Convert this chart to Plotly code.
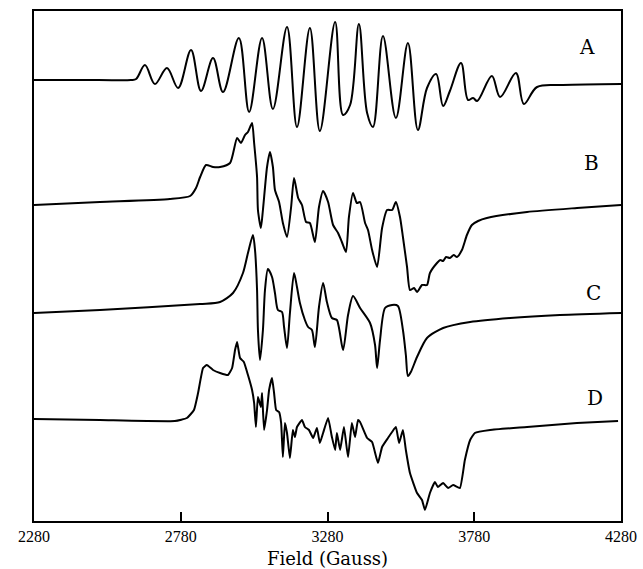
import plotly.graph_objects as go

# ---- data (field in Gauss, signal in arbitrary units relative to each baseline) ----
field_A = [2280, 2500, 2610, 2628, 2658, 2692, 2733, 2771, 2815, 2849, 2890, 2924, 2978, 3013, 3057, 3094,
           3142, 3176, 3220, 3254, 3306, 3333, 3357, 3387, 3415, 3435, 3469, 3513, 3554, 3588,
           3619, 3650, 3674, 3697, 3735, 3759, 3776, 3790, 3840, 3868, 3922, 3949, 3994, 4082, 4280]
sig_A = [0, 0, 0, 1, 15, -4, 12, -8, 30, -11, 22, -12, 42, -32, 42, -29,
         53, -47, 52, -51, 58, -35, -25, 56, -33, -47, 44, -38, 37, -50,
         -8, 6, -26, -11, 17, -20, -18, -21, 4, -17, 7, -24, -7, -5, -4]

field_B = [2280, 2505, 2743, 2812, 2832, 2846, 2866, 2890, 2914, 2948, 2972, 2985, 2999, 3009,
           3023, 3030, 3040, 3043, 3053, 3060, 3074, 3084, 3094, 3101, 3115, 3128, 3142, 3156,
           3166, 3180, 3193, 3207, 3220, 3237, 3251, 3265, 3282, 3299, 3316, 3329, 3343, 3353,
           3367, 3380, 3391, 3408, 3418, 3432, 3449, 3466, 3483, 3500, 3513, 3527, 3537, 3551,
           3561, 3575, 3585, 3602, 3619, 3629, 3653, 3664, 3674, 3684, 3697, 3710, 3721, 3738,
           3755, 3772, 3793, 3823, 3960, 4130, 4280]
sig_B = [-1, 2, 5, 8, 16, 27, 39, 37, 37, 41, 66, 61, 69, 72,
         81, 61, 27, -6, -24, -6, 37, 52, 37, 14, 2, -19, -33, -3,
         26, 6, -1, -18, -19, -38, -3, 13, 2, -21, -29, -38, -48, -13,
         11, 1, 2, -19, -26, -46, -63, -24, -6, -6, 2, -13, -33, -63,
         -86, -84, -88, -81, -81, -69, -59, -56, -57, -53, -54, -51, -53, -46,
         -31, -21, -17, -14, -8, -4, -1]

field_C = [2280, 2505, 2846, 2914, 2958, 2992, 3009, 3026, 3033, 3040, 3043, 3050, 3060, 3067,
           3077, 3091, 3101, 3111, 3125, 3132, 3142, 3152, 3166, 3176, 3186, 3203, 3214, 3227,
           3237, 3251, 3265, 3278, 3295, 3312, 3333, 3350, 3367, 3391, 3425, 3442, 3449, 3459,
           3476, 3500, 3520, 3537, 3547, 3554, 3564, 3585, 3619, 3674, 3766, 3902, 4072, 4280]
sig_C = [0, 3, 9, 11, 20, 40, 60, 78, 63, 23, -17, -47, -17, 23,
         44, 36, 20, 3, 1, -14, -35, 0, 40, 26, 10, -7, -14, -17,
         -34, 6, 30, 11, -5, -7, -37, -2, 17, 5, -10, -32, -55, -27,
         5, 8, 7, -17, -42, -63, -59, -44, -25, -15, -9, -5, -2, 0]

field_D = [2280, 2505, 2760, 2801, 2825, 2839, 2856, 2869, 2890, 2914, 2941, 2955, 2965, 2972,
           2982, 2995, 3009, 3023, 3030, 3036, 3043, 3053, 3057, 3064, 3074, 3081, 3091, 3098,
           3105, 3115, 3122, 3128, 3135, 3142, 3152, 3162, 3169, 3176, 3193, 3203, 3217, 3231,
           3244, 3254, 3265, 3282, 3295, 3306, 3312, 3323, 3336, 3350, 3363, 3374, 3384, 3391,
           3415, 3432, 3452, 3466, 3486, 3500, 3513, 3524, 3537, 3547, 3561, 3585, 3602, 3612,
           3629, 3646, 3656, 3674, 3691, 3708, 3731, 3748, 3766, 3782, 3834, 3960, 4130, 4270]
sig_D = [0, -1, -2, 1, 9, 26, 51, 54, 49, 46, 44, 51, 69, 77,
         61, 57, 44, 29, 16, -8, 22, 12, 26, -11, 9, 29, 41, 26,
         9, 7, -4, -38, -4, -14, -39, -11, -18, -8, -1, -8, -11, -19,
         -9, -24, -14, 1, -18, -31, -14, -31, -8, -38, -4, -18, -1, -3,
         -19, -23, -44, -28, -19, -13, -8, -24, -11, -31, -54, -74, -81, -91,
         -74, -63, -68, -64, -69, -66, -69, -41, -21, -14, -11, -8, -4, -2]

labels = ["A", "B", "C", "D"]
tick_vals = [2280, 2780, 3280, 3780, 4280]
x_title = "Field (Gauss)"

# ---- styling / stacking ----
offsets = [441, 317, 208, 102]
series = [(field_A, sig_A), (field_B, sig_B), (field_C, sig_C), (field_D, sig_D)]
smooth = [1.0, 0.6, 0.7, 0.4]
label_pos = [(4164, 474), (4181, 358), (4185, 228), (4191, 123)]

fig = go.Figure()
for (fx, sy), off, sm in zip(series, offsets, smooth):
    fig.add_trace(go.Scatter(
        x=fx, y=[v + off for v in sy], mode="lines",
        line=dict(color="black", width=2, shape="spline", smoothing=sm),
        showlegend=False, hoverinfo="skip"))

for lab, (lx, ly) in zip(labels, label_pos):
    fig.add_annotation(x=lx, y=ly, text=lab, showarrow=False,
                       font=dict(family="DejaVu Serif", size=20, color="black"),
                       xanchor="center", yanchor="middle")

fig.add_annotation(x=0.5, y=-0.073, xref="paper", yref="paper", text=x_title,
                   showarrow=False, xanchor="center", yanchor="middle",
                   font=dict(family="DejaVu Serif", size=18, color="black"))

fig.update_xaxes(range=[2280, 4280], tickvals=tick_vals, ticktext=[str(v) for v in tick_vals],
                 ticks="inside", ticklen=9, tickwidth=1.5, tickcolor="black",
                 showline=True, linecolor="black", linewidth=2, mirror=True,
                 showgrid=False, zeroline=False, automargin=False,
                 tickfont=dict(family="Liberation Serif", size=16, color="black"))
fig.update_yaxes(range=[0, 510], showticklabels=False, ticks="",
                 showline=True, linecolor="black", linewidth=1.5, mirror=True,
                 showgrid=False, zeroline=False, automargin=False)

fig.update_layout(width=643, height=569,
                  margin=dict(l=34, r=22, t=11, b=48),
                  plot_bgcolor="white", paper_bgcolor="white")

fig.write_html("out.html", config={"displayModeBar": False},
               post_script="document.body.style.margin='0';document.body.style.overflow='hidden';")
